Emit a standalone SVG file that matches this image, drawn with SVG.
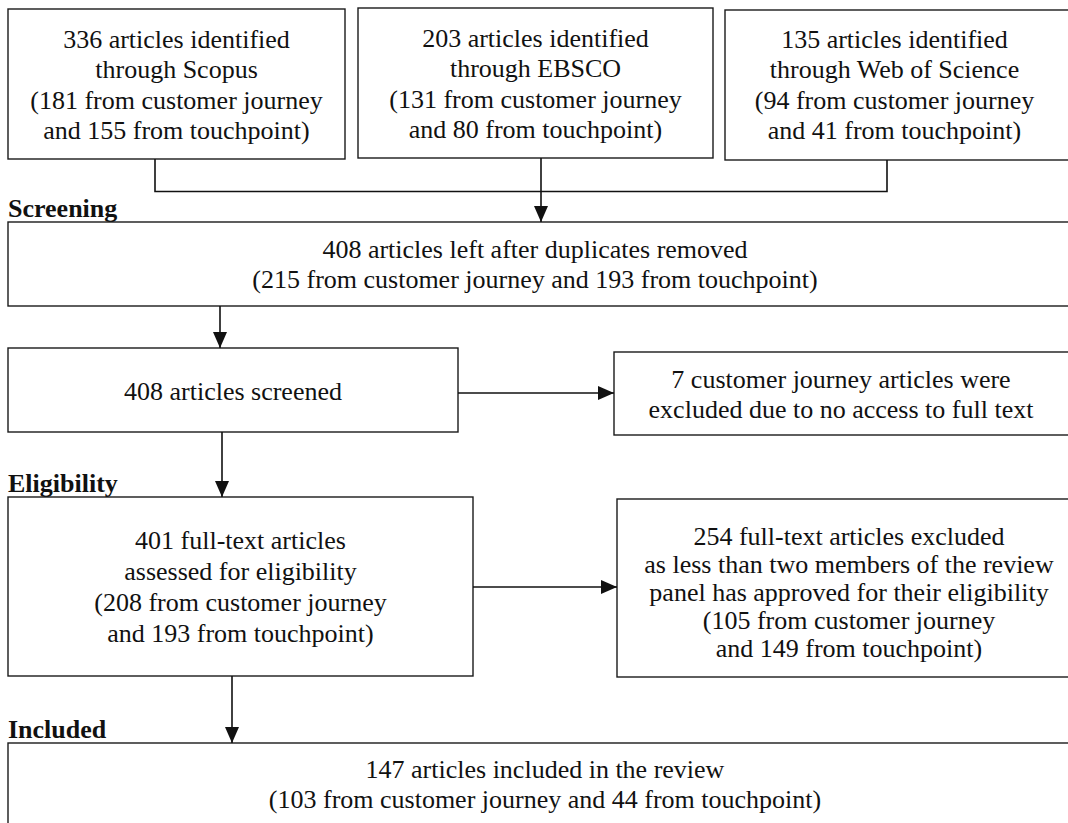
<svg xmlns="http://www.w3.org/2000/svg" width="1068" height="823" viewBox="0 0 1068 823">
<style>
  .box { fill: #fff; stroke: #1a1a1a; stroke-width: 1.4; }
  .t { font-family: 'Liberation Serif', Tinos, 'Times New Roman', Times, 'DejaVu Serif', serif; font-size: 26px; fill: #111; text-anchor: middle; }
  .lbl { font-family: 'Liberation Serif', Tinos, 'Times New Roman', Times, 'DejaVu Serif', serif; font-size: 26px; font-weight: bold; fill: #111; }
  .c { fill: none; stroke: #111; stroke-width: 1.6; }
</style>
<defs>
  <marker id="ah" markerUnits="userSpaceOnUse" markerWidth="16" markerHeight="16" viewBox="0 0 16 14" refX="16" refY="7" orient="auto">
    <path d="M0,0 L16,7 L0,14 Z" fill="#111"/>
  </marker>
</defs>
<rect width="1068" height="823" fill="#fff"/>

<g id="labels">
  <text class="lbl" x="8" y="217">Screening</text>
  <text class="lbl" x="8" y="492">Eligibility</text>
  <text class="lbl" x="8" y="738">Included</text>
</g>

<g id="scopus">
  <rect class="box" x="8" y="9" width="337" height="150"/>
  <text class="t" x="176.5" y="48">336 articles identified</text>
  <text class="t" x="176.5" y="78">through Scopus</text>
  <text class="t" x="176.5" y="109">(181 from customer journey</text>
  <text class="t" x="176.5" y="139">and 155 from touchpoint)</text>
</g>
<g id="ebsco">
  <rect class="box" x="358" y="8" width="355" height="150"/>
  <text class="t" x="535.5" y="47">203 articles identified</text>
  <text class="t" x="535.5" y="77">through EBSCO</text>
  <text class="t" x="535.5" y="108">(131 from customer journey</text>
  <text class="t" x="535.5" y="138">and 80 from touchpoint)</text>
</g>
<g id="wos">
  <rect class="box" x="725" y="10" width="350" height="150"/>
  <text class="t" x="894.5" y="48">135 articles identified</text>
  <text class="t" x="894.5" y="78">through Web of Science</text>
  <text class="t" x="894.5" y="109">(94 from customer journey</text>
  <text class="t" x="894.5" y="139">and 41 from touchpoint)</text>
</g>
<g id="dedup">
  <rect class="box" x="8" y="222" width="1070" height="84"/>
  <text class="t" x="535" y="258">408 articles left after duplicates removed</text>
  <text class="t" x="535" y="288">(215 from customer journey and 193 from touchpoint)</text>
</g>
<g id="screened">
  <rect class="box" x="8" y="348" width="450" height="84"/>
  <text class="t" x="233" y="400">408 articles screened</text>
</g>
<g id="excluded-access">
  <rect class="box" x="614" y="352" width="460" height="83"/>
  <text class="t" x="841" y="388">7 customer journey articles were</text>
  <text class="t" x="841" y="418">excluded due to no access to full text</text>
</g>
<g id="fulltext">
  <rect class="box" x="8" y="497" width="465" height="179"/>
  <text class="t" x="240.5" y="549">401 full-text articles</text>
  <text class="t" x="240.5" y="580">assessed for eligibility</text>
  <text class="t" x="240.5" y="611">(208 from customer journey</text>
  <text class="t" x="240.5" y="642">and 193 from touchpoint)</text>
</g>
<g id="excluded-eligibility">
  <rect class="box" x="617" y="499" width="470" height="178"/>
  <text class="t" x="849" y="545">254 full-text articles excluded</text>
  <text class="t" x="849" y="573">as less than two members of the review</text>
  <text class="t" x="849" y="601">panel has approved for their eligibility</text>
  <text class="t" x="849" y="629">(105 from customer journey</text>
  <text class="t" x="849" y="657">and 149 from touchpoint)</text>
</g>
<g id="included">
  <rect class="box" x="8" y="743" width="1080" height="100"/>
  <text class="t" x="545" y="778">147 articles included in the review</text>
  <text class="t" x="545" y="808">(103 from customer journey and 44 from touchpoint)</text>
</g>

<g id="connectors">
  <path class="c" d="M155,159 V191.5 H887 V160"/>
  <path class="c" d="M541,158 V222" marker-end="url(#ah)"/>
  <path class="c" d="M220,306 V348" marker-end="url(#ah)"/>
  <path class="c" d="M458,393 H614" marker-end="url(#ah)"/>
  <path class="c" d="M222,432 V497" marker-end="url(#ah)"/>
  <path class="c" d="M473,587 H617" marker-end="url(#ah)"/>
  <path class="c" d="M232,676 V743" marker-end="url(#ah)"/>
</g>
</svg>
